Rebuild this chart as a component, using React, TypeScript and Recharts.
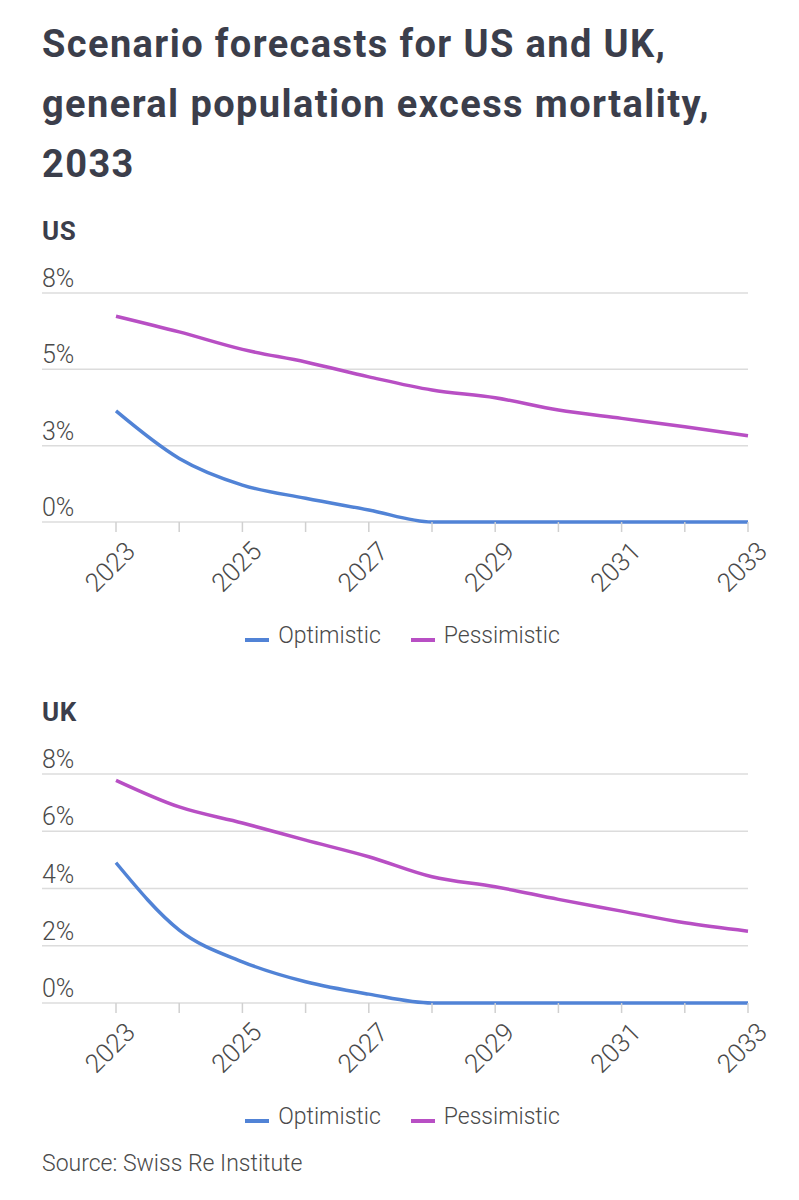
import { CartesianGrid, Legend, Line, LineChart, XAxis, YAxis } from "recharts";

const years = ["2023", "2024", "2025", "2026", "2027", "2028", "2029", "2030", "2031", "2032", "2033"];
const yearLabels = ["2023", "2025", "2027", "2029", "2031", "2033"];

const usOptimistic = [3.88, 2.22, 1.29, 0.83, 0.42, 0, 0, 0, 0, 0, 0];
const usPessimistic = [7.19, 6.64, 6.03, 5.59, 5.07, 4.61, 4.34, 3.91, 3.62, 3.33, 3.01];
const usTicks = [0, 8 / 3, 16 / 3, 8];

const ukOptimistic = [4.9, 2.55, 1.44, 0.74, 0.31, 0, 0, 0, 0, 0, 0];
const ukPessimistic = [7.78, 6.85, 6.29, 5.69, 5.11, 4.41, 4.06, 3.62, 3.21, 2.8, 2.51];
const ukTicks = [0, 2, 4, 6, 8];

const BLUE = "#5183d6";
const PURPLE = "#b84fc4";
const TEXT = "#3b3e4b";
const LIGHT = "#4a4a4a";
const FONT = "Roboto, 'Liberation Sans', sans-serif";

function YTick({ y, payload }: any) {
  return (
    <text x={42} y={y - 6} fill={LIGHT} fontSize={25} fontWeight={300} fontFamily={FONT}>
      {Math.round(payload.value) + "%"}
    </text>
  );
}

function XTick({ x, y, payload }: any) {
  if (!yearLabels.includes(payload.value)) return <g />;
  return (
    <g transform={`translate(${x + 7},${y + 5})`}>
      <text
        x={0}
        y={0}
        textAnchor="end"
        dy="0.75em"
        transform="rotate(-45)"
        fill={LIGHT}
        fontSize={26}
        fontWeight={300}
        fontFamily={FONT}
      >
        {payload.value}
      </text>
    </g>
  );
}

function LegendBox() {
  const items = [
    { name: "Optimistic", color: BLUE },
    { name: "Pessimistic", color: PURPLE },
  ];
  return (
    <div
      style={{
        height: 30,
        display: "flex",
        justifyContent: "center",
        alignItems: "center",
        gap: 30,
        paddingLeft: 16,
        fontFamily: FONT,
        fontWeight: 300,
        fontSize: 23,
        color: LIGHT,
      }}
    >
      {items.map((it) => (
        <div key={it.name} style={{ display: "flex", alignItems: "center" }}>
          <span style={{ display: "inline-block", width: 24, height: 4, background: it.color, marginRight: 9, marginTop: 9 }} />
          {it.name}
        </div>
      ))}
    </div>
  );
}

function ScenarioChart({ optimistic, pessimistic, ticks }: { optimistic: number[]; pessimistic: number[]; ticks: number[] }) {
  const data = years.map((year, i) => ({ year, Optimistic: optimistic[i], Pessimistic: pessimistic[i] }));
  return (
    <LineChart width={799} height={410} data={data} margin={{ top: 43, right: 51, bottom: 10, left: 41 }}>
      <CartesianGrid vertical={false} stroke="#dcdcdc" strokeWidth={1.5} />
      <XAxis
        dataKey="year"
        interval={0}
        padding={{ left: 74, right: 0 }}
        axisLine={false}
        tickLine={{ stroke: "#d0d0d0", strokeWidth: 1.5 }}
        tickSize={10}
        height={98}
        tick={<XTick />}
      />
      <YAxis
        width={1}
        domain={[0, 8]}
        ticks={ticks}
        interval={0}
        axisLine={false}
        tickLine={false}
        tick={<YTick />}
      />
      <Legend verticalAlign="bottom" content={<LegendBox />} />
      <Line type="monotone" dataKey="Optimistic" stroke={BLUE} strokeWidth={3.5} dot={false} isAnimationActive={false} />
      <Line type="monotone" dataKey="Pessimistic" stroke={PURPLE} strokeWidth={3.5} dot={false} isAnimationActive={false} />
    </LineChart>
  );
}

export default function App() {
  return (
    <div style={{ position: "absolute", left: 0, top: 0, width: 799, height: 1200, background: "#fff", fontFamily: FONT }}>
      <div
        style={{
          position: "absolute",
          left: 42,
          top: 14,
          fontSize: 38,
          lineHeight: "60px",
          fontWeight: 700,
          color: TEXT,
          letterSpacing: 1.4,
          width: 757,
        }}
      >
        Scenario forecasts for US and UK,
        <br />
        general population excess mortality,
        <br />
        2033
      </div>
      <div style={{ position: "absolute", left: 42, top: 216, fontSize: 26, fontWeight: 700, color: TEXT, letterSpacing: 0.5 }}>US</div>
      <div style={{ position: "absolute", left: 0, top: 250 }}>
        <ScenarioChart optimistic={usOptimistic} pessimistic={usPessimistic} ticks={usTicks} />
      </div>
      <div style={{ position: "absolute", left: 42, top: 697, fontSize: 26, fontWeight: 700, color: TEXT, letterSpacing: 0.5 }}>UK</div>
      <div style={{ position: "absolute", left: 0, top: 731 }}>
        <ScenarioChart optimistic={ukOptimistic} pessimistic={ukPessimistic} ticks={ukTicks} />
      </div>
      <div style={{ position: "absolute", left: 42, top: 1150, fontSize: 23, fontWeight: 300, color: LIGHT }}>
        Source: Swiss Re Institute
      </div>
    </div>
  );
}
